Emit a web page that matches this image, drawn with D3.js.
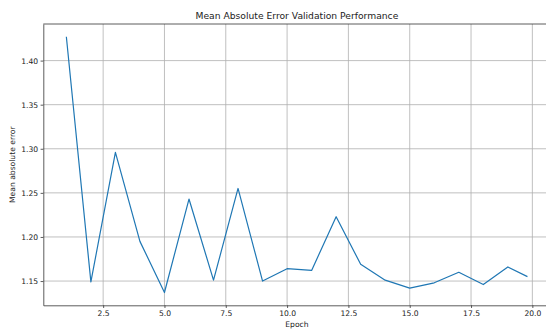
<!DOCTYPE html>
<html>
<head>
<meta charset="utf-8">
<script src="https://cdn.jsdelivr.net/npm/d3@7"></script>
<style>
  html, body { margin: 0; padding: 0; background: #fff; }
  svg { display: block; font-family: "DejaVu Sans", sans-serif; }
</style>
</head>
<body>
<svg id="chart" width="546" height="329"></svg>
<script>
//
// Data
//

var epochs = [1, 2, 3, 4, 5, 6, 7, 8, 9, 10, 11, 12, 13, 14, 15, 16, 17, 18, 19, 19.8]
var mae = [1.427, 1.149, 1.296, 1.195, 1.137, 1.243, 1.151, 1.255, 1.150, 1.164,
           1.162, 1.223, 1.169, 1.151, 1.142, 1.148, 1.160, 1.146, 1.166, 1.155]
var xTicks = [2.5, 5, 7.5, 10, 12.5, 15, 17.5, 20]
var yTicks = [1.15, 1.20, 1.25, 1.30, 1.35, 1.40]

//
// Layout
//

// note: "top" is a read-only window global, so use plot* names
var plotLeft = 43.3, plotRight = 550.5, plotTop = 24, plotBottom = 305.3
var colorLine = '#1f77b4'
var colorGrid = '#b0b0b0'
var colorText = '#222'
var colorSpine = '#333'

var svg = d3.select('#chart')

// matplotlib-like 5% margins
function padded(values) {
  var ext = d3.extent(values)
  var pad = (ext[1] - ext[0]) * 0.05
  return [ext[0] - pad, ext[1] + pad]
}

var x = d3.scaleLinear().domain(padded(epochs)).range([plotLeft, plotRight])
var y = d3.scaleLinear().domain(padded(mae)).range([plotBottom, plotTop])

// grid
svg.append('g')
  .selectAll('line')
  .data(xTicks)
  .enter()
  .append('line')
  .attr('x1', d => x(d)).attr('x2', d => x(d))
  .attr('y1', plotTop).attr('y2', plotBottom)
  .attr('stroke', colorGrid)
  .attr('stroke-width', 0.8)

svg.append('g')
  .selectAll('line')
  .data(yTicks)
  .enter()
  .append('line')
  .attr('x1', plotLeft).attr('x2', plotRight)
  .attr('y1', d => y(d)).attr('y2', d => y(d))
  .attr('stroke', colorGrid)
  .attr('stroke-width', 0.8)

// line
var line = d3.line()
  .x((d, i) => x(epochs[i]))
  .y(d => y(d))

svg.append('path')
  .datum(mae)
  .attr('d', line)
  .attr('fill', 'none')
  .attr('stroke', colorLine)
  .attr('stroke-width', 1.2)
  .attr('stroke-linejoin', 'round')

// axes
var xAxis = svg.append('g')
  .attr('transform', `translate(0, ${plotBottom})`)
  .call(d3.axisBottom(x).tickValues(xTicks).tickFormat(d3.format('.1f'))
    .tickSize(2.7).tickPadding(2.5).tickSizeOuter(0))

var yAxis = svg.append('g')
  .attr('transform', `translate(${plotLeft}, 0)`)
  .call(d3.axisLeft(y).tickValues(yTicks).tickFormat(d3.format('.2f'))
    .tickSize(2.7).tickPadding(2.5).tickSizeOuter(0))

;[xAxis, yAxis].forEach(function(g) {
  g.selectAll('.domain').attr('stroke', colorSpine).attr('stroke-width', 0.8)
  g.selectAll('.tick line').attr('stroke', colorSpine).attr('stroke-width', 0.8)
  g.selectAll('.tick text')
    .attr('fill', colorText)
    .style('font-size', '7.6px')
    .style('font-family', '"DejaVu Sans", sans-serif')
})

// top and right spines
svg.append('line')
  .attr('x1', plotLeft).attr('x2', plotRight)
  .attr('y1', plotTop).attr('y2', plotTop)
  .attr('stroke', colorSpine)
  .attr('stroke-width', 0.8)

svg.append('line')
  .attr('x1', plotRight).attr('x2', plotRight)
  .attr('y1', plotTop).attr('y2', plotBottom)
  .attr('stroke', colorSpine)
  .attr('stroke-width', 0.8)

// titles
svg.append('text')
  .attr('x', (plotLeft + plotRight) / 2)
  .attr('y', 19)
  .attr('text-anchor', 'middle')
  .attr('fill', colorText)
  .style('font-size', '9.2px')
  .text('Mean Absolute Error Validation Performance')

svg.append('text')
  .attr('x', (plotLeft + plotRight) / 2)
  .attr('y', 326.5)
  .attr('text-anchor', 'middle')
  .attr('fill', colorText)
  .style('font-size', '7.6px')
  .text('Epoch')

svg.append('text')
  .attr('transform', `translate(15, ${(plotTop + plotBottom) / 2}) rotate(-90)`)
  .attr('text-anchor', 'middle')
  .attr('fill', colorText)
  .style('font-size', '7.6px')
  .text('Mean absolute error')
</script>
</body>
</html>
